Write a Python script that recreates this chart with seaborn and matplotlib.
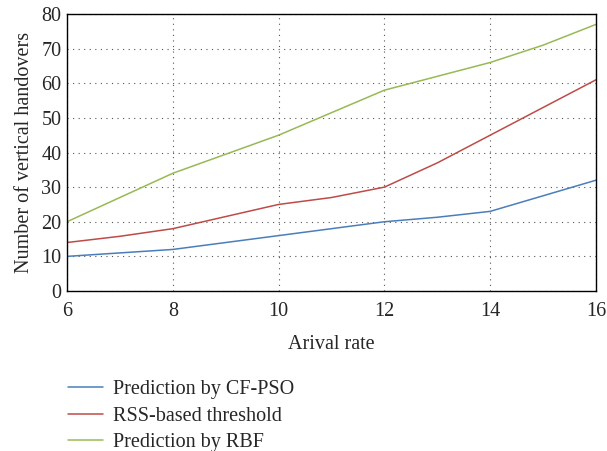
import pandas as pd
import matplotlib
matplotlib.use("Agg")
import matplotlib.pyplot as plt
import seaborn as sns

# Data
arrival_rate = [6, 7, 8, 9, 10, 11, 12, 13, 14, 15, 16]
cf_pso = [10, 11, 12, 14, 16, 18, 20, 21.3, 23, 27.5, 32]
rss_threshold = [14, 15.8, 18, 21.5, 25, 27, 30, 37, 45, 53, 61]
rbf = [20, 27, 34, 39.5, 45, 51.5, 58, 62, 66, 71, 77]

series_names = ["Prediction by CF-PSO", "RSS-based threshold", "Prediction by RBF"]
colors = ["#4a7ebb", "#be4b48", "#98b954"]

df = pd.DataFrame({
    "x": arrival_rate * 3,
    "y": cf_pso + rss_threshold + rbf,
    "series": [series_names[0]] * len(arrival_rate)
    + [series_names[1]] * len(arrival_rate)
    + [series_names[2]] * len(arrival_rate),
})

sns.set_style("white")
plt.rcParams["font.family"] = ["Liberation Serif", "DejaVu Serif"]

fig = plt.figure(figsize=(6.07, 4.51), dpi=100)
ax = fig.add_axes([67 / 607, 1 - 291 / 451, (596 - 67) / 607, (291 - 14) / 451])

sns.lineplot(data=df, x="x", y="y", hue="series", palette=colors,
             linewidth=1.1, ax=ax, legend=False)

ax.set_xlim(6, 16)
ax.set_ylim(0, 80)
ax.set_xticks([6, 8, 10, 12, 14, 16])
ax.set_yticks(range(0, 81, 10))
ax.tick_params(length=0, labelsize=14.5)
ax.tick_params(axis="x", pad=8)
ax.tick_params(axis="y", pad=4)
ax.grid(True, linestyle=(0, (1, 4)), color="#555555", linewidth=0.8)
for sp in ax.spines.values():
    sp.set_color("black")
    sp.set_linewidth(1.0)

ax.set_xlabel("Arival rate", fontsize=14.5, labelpad=10)
ax.set_ylabel("Number of vertical handovers", fontsize=14.5, labelpad=5)

handles = [plt.Line2D([], [], color=c, linewidth=1.1) for c in colors]
fig.legend(handles, series_names, loc="upper left",
           bbox_to_anchor=(50 / 607, 1 - 362 / 451), frameon=False,
           fontsize=14.5, handlelength=1.75, labelspacing=0.36, handletextpad=0.5)

fig.savefig("out.png", dpi=100)
